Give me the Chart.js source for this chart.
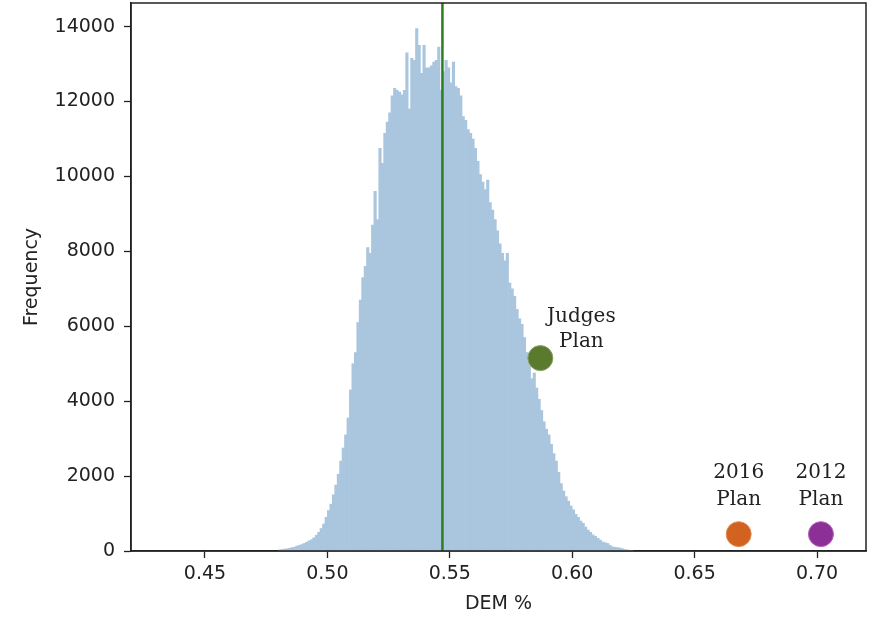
<!DOCTYPE html>
<html>
<head>
<meta charset="utf-8">
<script src="https://cdn.jsdelivr.net/npm/chart.js@4"></script>
<style>
  html, body { margin: 0; padding: 0; background: #ffffff; }
  #wrap { width: 876px; height: 617px; }
</style>
</head>
<body>
<div id="wrap"><canvas id="c" width="876" height="617"></canvas></div>
<script>
// ---- data ----
const binStart = 0.480;   // left edge of first histogram bin
const binWidth = 0.001;   // histogram bin width
const binCounts = [
  30, 40, 50, 60, 70, 90, 100, 130, 150, 170,
  200, 230, 270, 300, 350, 420, 500, 600, 720, 900,
  1080, 1250, 1500, 1760, 2050, 2400, 2750, 3100, 3550, 4300,
  5000, 5300, 6100, 6700, 7300, 7600, 8100, 7950, 8700, 9600,
  8850, 10750, 10350, 11150, 11450, 11700, 12150, 12350, 12300, 12250,
  12180, 12300, 13300, 11800, 13150, 13100, 13950, 13500, 12750, 13500,
  12900, 12900, 12950, 13050, 13100, 13450, 12300, 12800, 13100, 12900,
  12500, 13050, 12400, 12350, 12150, 11600, 11500, 11250, 11150, 11000,
  10750, 10400, 10050, 9850, 9650, 9900, 9300, 9100, 8850, 8550,
  8200, 7950, 7750, 7950, 7150, 7000, 6800, 6450, 6200, 6050,
  5700, 5300, 5000, 4600, 4750, 4350, 4050, 3750, 3450, 3250,
  3100, 2850, 2600, 2400, 2100, 1800, 1600, 1450, 1330, 1200,
  1100, 980, 900, 800, 740, 640, 560, 500, 430, 390,
  340, 290, 240, 220, 200, 150, 110, 100, 90, 80,
  60, 40, 30, 20, 10
];
const meanDem = 0.547;
const planNames = [['Judges', 'Plan'], ['2016', 'Plan'], ['2012', 'Plan']];
const planDem = [0.587, 0.668, 0.7016];
const planFreq = [5150, 450, 450];
const planColors = ['#5a7a2e', '#d2621f', '#8c2f96'];
const xTicks = [0.45, 0.50, 0.55, 0.60, 0.65, 0.70];
const yTicks = [0, 2000, 4000, 6000, 8000, 10000, 12000, 14000];
const xRange = [0.4198, 0.7200];
const yRange = [0, 14630];

// ---- build datasets ----
const histData = binCounts.map((v, i) => ({ x: binStart + binWidth * (i + 0.5), y: v }));
const meanLine = [{ x: meanDem, y: yRange[0] }, { x: meanDem, y: yRange[1] }];
const planPoints = planDem.map((x, i) => ({ x: x, y: planFreq[i] }));

const ink = '#222222';

const framePlugin = {
  id: 'frame',
  afterDraw(chart) {
    const a = chart.chartArea, ctx = chart.ctx;
    ctx.save();
    ctx.strokeStyle = ink;
    ctx.lineWidth = 1.5;
    ctx.strokeRect(a.left, a.top, a.right - a.left, a.bottom - a.top);
    ctx.restore();
  }
};

const labelPlugin = {
  id: 'planLabels',
  afterDatasetsDraw(chart) {
    const ctx = chart.ctx, xs = chart.scales.x, ys = chart.scales.y;
    ctx.save();
    ctx.fillStyle = ink;
    ctx.font = '20px "DejaVu Serif"';
    ctx.textAlign = 'center';
    ctx.textBaseline = 'middle';
    planNames.forEach((lines, i) => {
      const px = xs.getPixelForValue(planDem[i]);
      const py = ys.getPixelForValue(planFreq[i]);
      let cx, y1, y2;
      if (i === 0) { cx = px + 41; y1 = py - 41; y2 = py - 16; }
      else { cx = px; y1 = py - 61; y2 = py - 34; }
      ctx.fillText(lines[0], cx, y1);
      ctx.fillText(lines[1], cx, y2);
    });
    ctx.restore();
  }
};

function zeroPad(s) { s.paddingTop = 0; s.paddingBottom = 0; s.paddingLeft = 0; s.paddingRight = 0; }

new Chart(document.getElementById('c'), {
  type: 'bar',
  data: {
    datasets: [
      {
        type: 'line',
        label: 'plans',
        data: planPoints,
        showLine: false,
        pointRadius: 12.5,
        pointHoverRadius: 12.5,
        pointBackgroundColor: planColors,
        pointBorderColor: ['#84a067', '#e38e5c', '#ac6ab4'],
        pointBorderWidth: 1,
        order: 1
      },
      {
        type: 'line',
        label: 'mean',
        data: meanLine,
        borderColor: '#2e7d1f',
        borderWidth: 2.5,
        pointRadius: 0,
        fill: false,
        order: 2
      },
      {
        type: 'bar',
        label: 'hist',
        data: histData,
        backgroundColor: '#a9c6de',
        borderWidth: 0,
        barPercentage: 1.0,
        categoryPercentage: 1.0,
        grouped: false,
        order: 3
      }
    ]
  },
  options: {
    responsive: false,
    animation: false,
    devicePixelRatio: 1,
    layout: { autoPadding: false, padding: { left: 0, right: 10, top: 3, bottom: 0 } },
    plugins: { legend: { display: false }, tooltip: { enabled: false } },
    scales: {
      x: {
        type: 'linear',
        min: xRange[0],
        max: xRange[1],
        offset: false,
        grid: { offset: false, drawOnChartArea: false, drawTicks: true, tickLength: 7, tickColor: ink, tickWidth: 1.3 },
        border: { display: true, color: ink, width: 1.5 },
        ticks: {
          color: ink,
          font: { family: '"DejaVu Sans"', size: 19 },
          padding: 5,
          maxRotation: 0,
          callback: (v) => Number(v).toFixed(2)
        },
        afterBuildTicks: (s) => { s.ticks = xTicks.map(v => ({ value: v })); },
        afterFit: (s) => { s.height = 66; zeroPad(s); },
        title: { display: true, text: 'DEM %', color: ink, font: { family: '"DejaVu Sans"', size: 19 }, padding: { top: 0, bottom: 2 } }
      },
      y: {
        type: 'linear',
        min: yRange[0],
        max: yRange[1],
        grid: { drawOnChartArea: false, drawTicks: true, tickLength: 7, tickColor: ink, tickWidth: 1.3 },
        border: { display: true, color: ink, width: 1.5 },
        ticks: {
          color: ink,
          font: { family: '"DejaVu Sans"', size: 19 },
          padding: 9,
          callback: (v) => String(v)
        },
        afterBuildTicks: (s) => { s.ticks = yTicks.map(v => ({ value: v })); },
        afterFit: (s) => { s.width = 131; zeroPad(s); },
        title: { display: true, text: 'Frequency', color: ink, font: { family: '"DejaVu Sans"', size: 19 }, padding: { top: 21, bottom: 0 } }
      }
    }
  },
  plugins: [framePlugin, labelPlugin]
});
</script>
</body>
</html>
